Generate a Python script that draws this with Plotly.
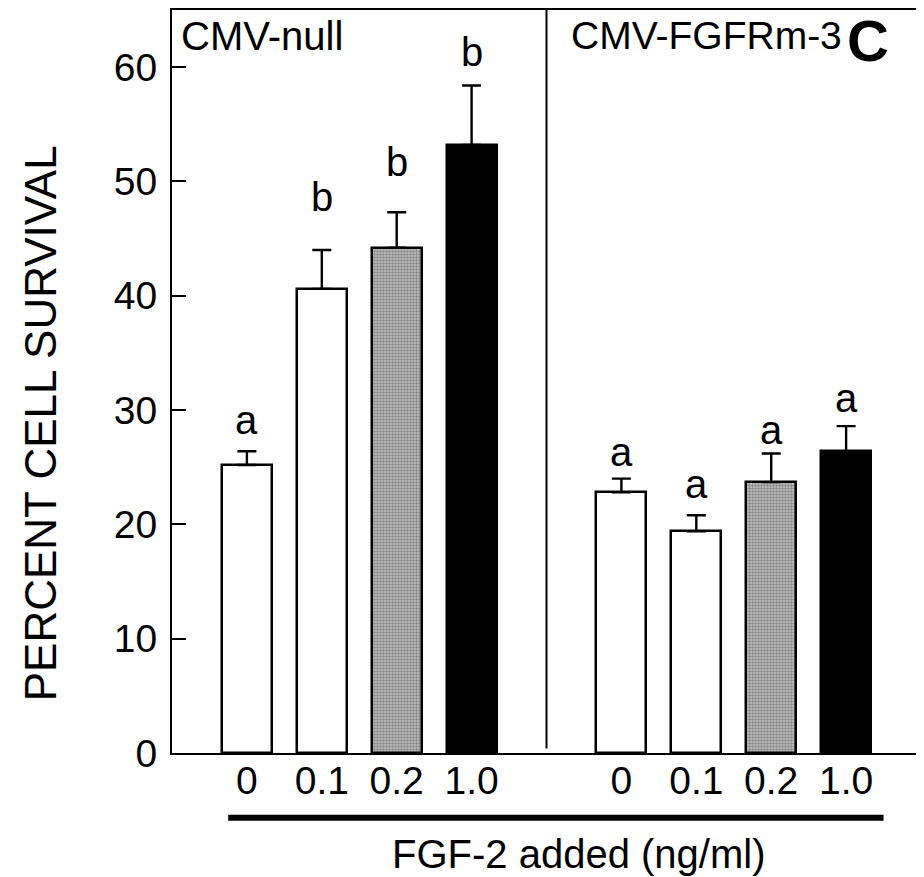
import plotly.graph_objects as go

# ---- data ----
dose_labels = ["0", "0.1", "0.2", "1.0"]
null_vals = [25.2, 40.6, 44.2, 53.2]
null_err = [1.2, 3.4, 3.1, 5.2]
null_letters = ["a", "b", "b", "b"]
null_letter_y = [29.1, 48.6, 51.7, 61.3]
fgfr_vals = [22.8, 19.4, 23.7, 26.4]
fgfr_err = [1.2, 1.4, 2.5, 2.2]
fgfr_letters = ["a", "a", "a", "a"]
fgfr_letter_y = [26.3, 23.5, 28.3, 31.1]
group_names = ["CMV-null", "CMV-FGFRm-3"]
y_ticks = [0, 10, 20, 30, 40, 50, 60]
null_pos = [1, 2, 3, 4]
fgfr_pos = [6, 7, 8, 9]

FONT = "Arial, Liberation Sans, sans-serif"
fill_colors = ["white", "white", "#c4c4c4", "black"]
pattern_shapes = ["", "", ".", ""]

fig = go.Figure()
for pos, vals, errs in [(null_pos, null_vals, null_err), (fgfr_pos, fgfr_vals, fgfr_err)]:
    fig.add_trace(go.Bar(
        x=pos, y=vals, width=0.667,
        marker=dict(color=fill_colors, line=dict(color="black", width=2.5),
                    pattern=dict(shape=pattern_shapes, fgcolor="#808080",
                                 size=3, solidity=0.5, fillmode="overlay")),
        error_y=dict(type="data", array=errs, arrayminus=[0] * len(errs), symmetric=False,
                     color="black", thickness=2.4, width=9.5),
        showlegend=False, hoverinfo="skip",
    ))

annotations = []
for pos, ly, letters in [(null_pos, null_letter_y, null_letters),
                         (fgfr_pos, fgfr_letter_y, fgfr_letters)]:
    for x, y, t in zip(pos, ly, letters):
        annotations.append(dict(x=x, y=y, text=t, showarrow=False, xref="x", yref="y",
                                yanchor="middle", font=dict(family=FONT, size=40, color="black")))

annotations.append(dict(x=0.1, y=65, xref="x", yref="y", text=group_names[0], showarrow=False,
                        xanchor="left", yanchor="top", yshift=-2,
                        font=dict(family=FONT, size=40, color="black")))
annotations.append(dict(x=5.3, y=65, xref="x", yref="y", text=group_names[1], showarrow=False,
                        xanchor="left", yanchor="top", yshift=-2,
                        font=dict(family=FONT, size=39, color="black")))
annotations.append(dict(x=9.29, y=65, xref="x", yref="y", text="<b>C</b>", showarrow=False,
                        xanchor="center", yanchor="top", yshift=3, borderpad=0,
                        font=dict(family=FONT, size=58, color="black")))
annotations.append(dict(x=5.43, y=-0.136, xref="x", yref="paper", text="FGF-2 added (ng/ml)",
                        showarrow=False, xanchor="center", yanchor="middle",
                        font=dict(family=FONT, size=40, color="black")))
annotations.append(dict(x=-0.176, y=0.444, xref="paper", yref="paper", text="PERCENT CELL SURVIVAL",
                        showarrow=False, textangle=-90, xanchor="center", yanchor="middle",
                        font=dict(family=FONT, size=44, color="black")))

shapes = [
    dict(type="line", xref="x", yref="y", x0=5, x1=5, y0=0.4, y1=65,
         line=dict(color="black", width=2)),
    dict(type="line", xref="x", yref="paper", x0=0.75, x1=9.5, y0=-0.087, y1=-0.087,
         line=dict(color="black", width=6)),
]

fig.update_layout(
    width=916, height=869,
    margin=dict(l=164, r=3, t=0, b=124),
    paper_bgcolor="white", plot_bgcolor="white",
    bargap=0,
    annotations=annotations, shapes=shapes,
    font=dict(family=FONT, size=39, color="black"),
    xaxis=dict(range=[0, 10], tickvals=null_pos + fgfr_pos, ticktext=dose_labels + dose_labels,
               ticks="", showgrid=False, zeroline=False, showline=True, linecolor="black",
               linewidth=2, mirror=True, tickfont=dict(family=FONT, size=39, color="black"),
               ticklabelstandoff=-8),
    yaxis=dict(range=[0, 65], tickvals=y_ticks, ticks="inside", ticklen=14, tickwidth=2,
               tickcolor="black", showgrid=False, zeroline=False, showline=True,
               linecolor="black", linewidth=2, mirror=True,
               tickfont=dict(family=FONT, size=39, color="black"), ticklabelstandoff=5),
)

fig.write_html("out.html")
